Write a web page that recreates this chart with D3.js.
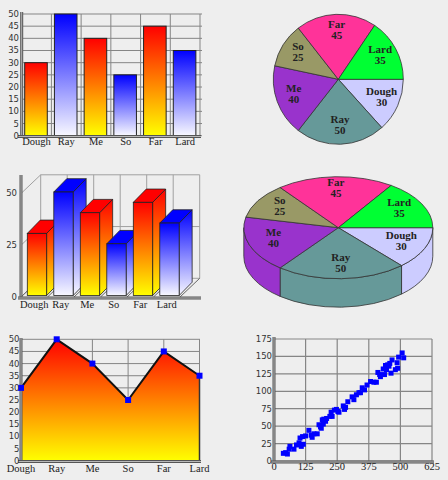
<!DOCTYPE html>
<html><head><meta charset="utf-8">
<script src="https://cdn.jsdelivr.net/npm/d3@7"></script>
<style>body{margin:0;background:#eeeeee}svg{display:block}</style>
</head><body>
<svg id="c" width="448" height="480"></svg>
<script>
// ---------- DATA ----------
const categories = ["Dough","Ray","Me","So","Far","Lard"];
const values = [30,50,40,25,45,35];
const barKinds = ["warm","cool","warm","cool","warm","cool"];
const pieColors = ["#ccccff","#669999","#9933cc","#999966","#ff3399","#00ff33"];
const barTicks = [0,5,10,15,20,25,30,35,40,45,50];
const bar3dTicks = [0,25,50];
const scatterX = [37,46,53,63,60,79,89,99,103,108,116,113,125,138,147,151,158,171,178,184,187,191,195,197,204,208,221,226,230,239,247,253,257,274,279,283,292,309,316,326,336,342,349,358,368,382,395,405,411,418,421,432,437,441,450,458,463,467,480,487,489,493,507,513,455,445];
const scatterY = [11,12,10,21,17,17,23,26,33,21,24,35,36,44,37,34,39,39,52,49,47,59,53,60,57,61,64,70,64,73,74,71,70,79,74,77,85,92,88,95,98,98,105,102,109,114,113,113,127,124,121,132,124,137,138,140,126,145,131,141,133,149,155,148,136,131];
const scatterXTicks = [0,125,250,375,500,625];
const scatterYTicks = [0,25,50,75,100,125,150,175];

// ---------- SETUP ----------
const svg = d3.select("#c");
const defs = svg.append("defs");
function grad(id, c1, c2){
  const g = defs.append("linearGradient").attr("id",id).attr("x1",0).attr("y1",0).attr("x2",0).attr("y2",1);
  g.append("stop").attr("offset","0%").attr("stop-color",c1);
  g.append("stop").attr("offset","100%").attr("stop-color",c2);
}
grad("warm","#ff0000","#ffff00");
grad("cool","#0000ff","#f8f8ff");
const topColor = {warm:"#ff0000", cool:"#0000ff"};
const NUMFONT = "DejaVu Sans", SERIF = "Liberation Serif";
const GRID = "#858585";

function axisLine(g, x1,y1,x2,y2){
  g.append("line").attr("x1",x1).attr("y1",y1).attr("x2",x2).attr("y2",y2).attr("stroke","#555").attr("stroke-width",3);
  g.append("line").attr("x1",x1).attr("y1",y1).attr("x2",x2).attr("y2",y2).attr("stroke","#b8b8b8").attr("stroke-width",1);
}
function yLabels(g, ticks, y, x, size){
  g.selectAll(null).data(ticks).join("text")
    .attr("x",x).attr("y",d=>y(d)).attr("dy","0.35em").attr("text-anchor","end")
    .attr("font-family",NUMFONT).attr("font-size",size||8.5).attr("fill","#333").text(d=>d);
}
function xLabels(g, data, xf, y, size){
  g.selectAll(null).data(data).join("text")
    .attr("x",xf).attr("y",y).attr("text-anchor","middle")
    .attr("font-family",SERIF).attr("font-size",size||10.5).attr("fill","#222").text(d=>d);
}

// ---------- 1. 2D BAR ----------
{
  const g = svg.append("g");
  const x = d3.scaleBand().domain(categories).range([21.7,200]).padding(0);
  const y = d3.scaleLinear().domain([0,50]).range([135.7,14]);
  g.selectAll(null).data(barTicks).join("line")
    .attr("x1",21.7).attr("x2",202).attr("y1",d=>y(d)).attr("y2",d=>y(d)).attr("stroke",GRID);
  g.selectAll(null).data(categories.concat(["_end"])).join("line")
    .attr("x1",(d,i)=>i<categories.length?x(d):200).attr("x2",(d,i)=>i<categories.length?x(d):200)
    .attr("y1",y(50)).attr("y2",y(0)).attr("stroke",GRID);
  const bw = x.bandwidth()*0.76;
  g.selectAll(null).data(categories).join("rect")
    .attr("x",d=>x(d)+3).attr("width",bw)
    .attr("y",(d,i)=>y(values[i])).attr("height",(d,i)=>y(0)-y(values[i]))
    .attr("fill",(d,i)=>`url(#${barKinds[i]})`).attr("stroke","#222").attr("stroke-width",1);
  axisLine(g,21.7,12,21.7,136.5);
  axisLine(g,18,136.5,201,136.5);
  yLabels(g,barTicks,y,19);
  xLabels(g,categories,d=>x(d)+x.bandwidth()/2,145);
}

// ---------- 2. 2D PIE ----------
const pie = d3.pie().sort(null).startAngle(Math.PI/2).endAngle(Math.PI*2.5);
const arcs = pie(values);
{
  const g = svg.append("g").attr("transform","translate(338.3,79.3)");
  const r = 65;
  const arc = d3.arc().innerRadius(0).outerRadius(r);
  const lab = d3.arc().innerRadius(r*0.73).outerRadius(r*0.73);
  g.selectAll(null).data(arcs).join("path").attr("d",arc)
    .attr("fill",(d,i)=>pieColors[i]).attr("stroke","#333").attr("stroke-width",0.8);
  g.selectAll(null).data(arcs).join("text")
    .attr("text-anchor","middle").attr("font-family",SERIF).attr("font-weight","bold")
    .attr("font-size",11).attr("fill","#222")
    .attr("x",d=>lab.centroid(d)[0]).attr("y",d=>lab.centroid(d)[1]-4).text((d,i)=>categories[i]);
  g.selectAll(null).data(arcs).join("text")
    .attr("text-anchor","middle").attr("font-family",SERIF).attr("font-weight","bold")
    .attr("font-size",11).attr("fill","#222")
    .attr("x",d=>lab.centroid(d)[0]).attr("y",d=>lab.centroid(d)[1]+7).text(d=>d.data);
}

// ---------- 3. 3D BAR ----------
{
  const g = svg.append("g");
  const x = d3.scaleBand().domain(categories).range([21,180]).padding(0);
  const y = d3.scaleLinear().domain([0,50]).range([297,193.5]);
  const D = [19.7,-18.7];
  const WALL = "#a0a0a0";
  const wl = (x1,y1,x2,y2,c)=>g.append("line").attr("x1",x1).attr("y1",y1).attr("x2",x2).attr("y2",y2).attr("stroke",c||WALL);
  bar3dTicks.forEach(v=>wl(21+D[0],y(v)+D[1],180+D[0],y(v)+D[1]));
  bar3dTicks.forEach(v=>wl(21,y(v),21+D[0],y(v)+D[1]));
  const bounds = categories.map(c=>x(c)).concat([180]);
  bounds.forEach(b=>{ wl(b+D[0],y(0)+D[1],b+D[0],y(50)+D[1]); wl(b,y(0),b+D[0],y(0)+D[1],"#666"); });
  const off=[2,-1.5], dep=[13,-13.3];
  const bw = x.bandwidth()*0.73;
  categories.forEach((c,i)=>{
    const k = barKinds[i];
    const x0 = x(c)+4.3+off[0], x1 = x0+bw;
    const yb = y(0)+off[1], yt = y(values[i])+off[1];
    const P = pts=>"M"+pts.map(p=>p.join(",")).join("L")+"Z";
    g.append("path").attr("d",P([[x1,yt],[x1+dep[0],yt+dep[1]],[x1+dep[0],yb+dep[1]],[x1,yb]]))
      .attr("fill",`url(#${k})`).attr("stroke","#222").attr("stroke-width",0.8);
    g.append("path").attr("d",P([[x0,yt],[x0+dep[0],yt+dep[1]],[x1+dep[0],yt+dep[1]],[x1,yt]]))
      .attr("fill",topColor[k]).attr("stroke","#222").attr("stroke-width",0.8);
    g.append("rect").attr("x",x0).attr("y",yt).attr("width",bw).attr("height",yb-yt)
      .attr("fill",`url(#${k})`).attr("stroke","#222").attr("stroke-width",0.8);
  });
  axisLine(g,21,175,21,298);
  axisLine(g,18,298,201,298);
  yLabels(g,bar3dTicks,y,17);
  xLabels(g,categories,d=>x(d)+x.bandwidth()/2,307.5);
}

// ---------- 4. 3D PIE ----------
{
  const g = svg.append("g");
  const cx=338.3, cy=227.7, rx=94.5, ry=51, depth=28.5;
  const pt = (a,dy)=>[cx+rx*Math.cos(a), cy+ry*Math.sin(a)+(dy||0)];
  const sa = d=>d.startAngle-Math.PI/2, ea = d=>d.endAngle-Math.PI/2;
  arcs.forEach((d,i)=>{
    const s = Math.max(sa(d),0), e = Math.min(ea(d),Math.PI);
    if (e<=s) return;
    const p1=pt(s), p2=pt(e), p3=pt(e,depth), p4=pt(s,depth);
    const path = `M${p1}A${rx},${ry} 0 0 1 ${p2}L${p3}A${rx},${ry} 0 0 0 ${p4}Z`;
    g.append("path").attr("d",path).attr("fill",pieColors[i]).attr("stroke","#333").attr("stroke-width",0.8);
  });
  arcs.forEach((d,i)=>{
    const s=sa(d), e=ea(d);
    const p1=pt(s), p2=pt(e);
    const large = (e-s)>Math.PI?1:0;
    g.append("path").attr("d",`M${cx},${cy}L${p1}A${rx},${ry} 0 ${large} 1 ${p2}Z`)
      .attr("fill",pieColors[i]).attr("stroke","#333").attr("stroke-width",0.8);
  });
  arcs.forEach((d,i)=>{
    const m=(sa(d)+ea(d))/2;
    const lx=cx+rx*0.73*Math.cos(m), ly=cy+ry*0.73*Math.sin(m);
    [[categories[i],-4],[values[i],7]].forEach(([txt,dy])=>{
      g.append("text").attr("text-anchor","middle").attr("font-family",SERIF).attr("font-weight","bold")
        .attr("font-size",11).attr("fill","#222").attr("x",lx).attr("y",ly+dy).text(txt);
    });
  });
}

// ---------- 5. AREA ----------
{
  const g = svg.append("g");
  const x = d3.scalePoint().domain(categories).range([21,199.5]);
  const y = d3.scaleLinear().domain([0,50]).range([460.7,339.3]);
  g.selectAll(null).data(barTicks).join("line")
    .attr("x1",21).attr("x2",200).attr("y1",d=>y(d)).attr("y2",d=>y(d)).attr("stroke",GRID);
  g.selectAll(null).data(categories).join("line")
    .attr("x1",d=>x(d)).attr("x2",d=>x(d)).attr("y1",y(50)).attr("y2",y(0)).attr("stroke",GRID);
  const area = d3.area().x((d,i)=>x(categories[i])).y0(y(0)).y1(d=>y(d));
  g.append("path").attr("d",area(values)).attr("fill","url(#warm)");
  const line = d3.line().x((d,i)=>x(categories[i])).y(d=>y(d));
  g.append("path").attr("d",line(values)).attr("fill","none").attr("stroke","#111").attr("stroke-width",2);
  g.append("line").attr("x1",x("Lard")).attr("x2",x("Lard")).attr("y1",y(values[5])).attr("y2",y(0)).attr("stroke","#333").attr("stroke-width",1.5);
  axisLine(g,21,338,21,461.5);
  axisLine(g,18,461.5,201,461.5);
  g.selectAll(null).data(values).join("rect")
    .attr("x",(d,i)=>x(categories[i])-3).attr("y",d=>y(d)-3).attr("width",6).attr("height",6).attr("fill","#0000ff");
  yLabels(g,barTicks,y,19.5);
  xLabels(g,categories,d=>x(d),471.5);
}

// ---------- 6. SCATTER ----------
{
  const g = svg.append("g");
  const x = d3.scaleLinear().domain([0,625]).range([274,432]);
  const y = d3.scaleLinear().domain([0,175]).range([461,339]);
  g.selectAll(null).data(scatterYTicks).join("line")
    .attr("x1",274).attr("x2",432).attr("y1",d=>y(d)).attr("y2",d=>y(d)).attr("stroke",GRID).attr("stroke-width",1.2);
  g.selectAll(null).data(scatterXTicks).join("line")
    .attr("x1",d=>x(d)).attr("x2",d=>x(d)).attr("y1",y(175)).attr("y2",y(0)).attr("stroke",GRID).attr("stroke-width",1.2);
  axisLine(g,274,337,274,462);
  axisLine(g,271,462,434,462);
  g.selectAll(null).data(scatterX).join("rect")
    .attr("x",d=>x(d)-2.5).attr("y",(d,i)=>y(scatterY[i])-2.5).attr("width",5).attr("height",5).attr("fill","#0000ff");
  yLabels(g,scatterYTicks,y,272,8.5);
  g.selectAll(null).data(scatterXTicks).join("text")
    .attr("x",d=>x(d)).attr("y",470).attr("text-anchor","middle")
    .attr("font-family",SERIF).attr("font-size",10.5).attr("fill","#222").text(d=>d);
}
</script>
</body></html>
